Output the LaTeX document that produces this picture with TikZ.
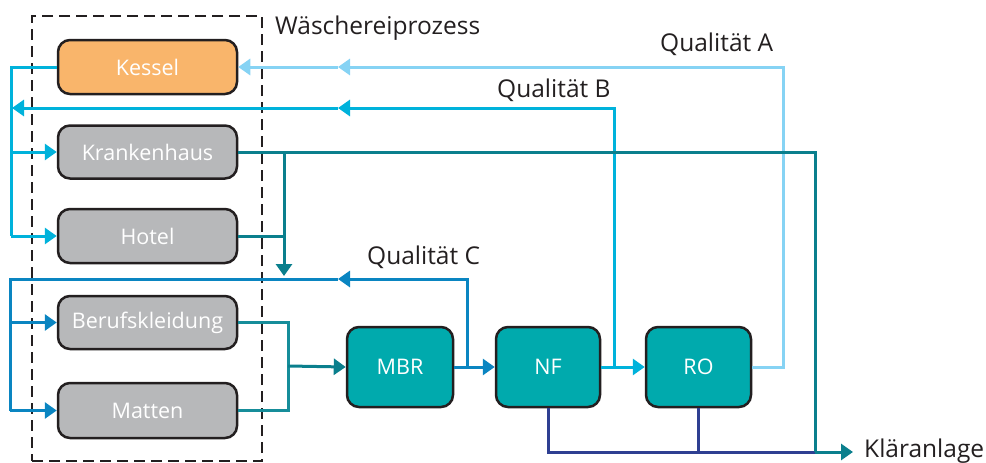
\documentclass[tikz,border=0pt]{standalone}
\usepackage{fontspec}
\setmainfont{Open Sans}
\usetikzlibrary{arrows.meta}
\definecolor{kesselc}{HTML}{F9B56B}
\definecolor{grayc}{HTML}{B7B8BA}
\definecolor{tealbox}{HTML}{00AAAD}
\definecolor{qaC}{HTML}{86D3F4}
\definecolor{qbC}{HTML}{00B2DB}
\definecolor{qcC}{HTML}{0A85C1}
\definecolor{dtC}{HTML}{0A7F8D}
\definecolor{mtC}{HTML}{168D9A}
\definecolor{nvC}{HTML}{2E3F92}
\definecolor{inkC}{HTML}{231F20}
\tikzset{
  box/.style={draw=inkC, line width=2.5pt, rounded corners=12pt, text=white,
    font=\fontsize{21.5}{25}\selectfont, inner sep=0pt},
  lbl/.style={text=inkC, font=\fontsize{24.5}{28}\selectfont, anchor=west, inner sep=0pt},
  flow/.style={line width=3pt},
  tip/.style={-{Triangle[length=12pt,width=16pt]}},
  qa/.style={flow, draw=qaC, color=qaC},
  qb/.style={flow, draw=qbC, color=qbC},
  qc/.style={flow, draw=qcC, color=qcC},
  dt/.style={flow, draw=dtC, color=dtC},
  mt/.style={flow, draw=mtC, color=mtC},
  nv/.style={flow, draw=nvC, color=nvC},
}
\begin{document}
\begin{tikzpicture}[x=1pt,y=-1pt]
\useasboundingbox (0,0) rectangle (986,463);

% dashed process box
\node[draw=inkC, line width=2.7pt, dash pattern=on 11pt off 6pt,
  minimum width=230pt, minimum height=445pt, inner sep=0pt] (proc) at (147,238.5) {};

% nodes
\node[box, fill=kesselc, minimum width=179pt, minimum height=54pt] (kessel) at (147.5,67) {Kessel};
\node[box, fill=grayc, minimum width=179pt, minimum height=53pt] (kh) at (147.5,152) {Krankenhaus};
\node[box, fill=grayc, minimum width=179pt, minimum height=54pt] (hotel) at (147.5,236) {Hotel};
\node[box, fill=grayc, minimum width=179pt, minimum height=53pt] (beruf) at (147.5,322.5) {Berufskleidung};
\node[box, fill=grayc, minimum width=179pt, minimum height=55pt] (matten) at (147.5,410.5) {Matten};
\node[box, fill=tealbox, minimum width=106pt, minimum height=80pt] (mbr) at (400,367) {MBR};
\node[box, fill=tealbox, minimum width=104pt, minimum height=80pt] (nf) at (548,367) {NF};
\node[box, fill=tealbox, minimum width=105pt, minimum height=80pt] (ro) at (698.5,367) {RO};

% labels
\node[lbl] (lwp) at (275,28) {Wäschereiprozess};
\node[lbl] (lqa) at (660,44) {Qualität A};
\node[lbl] (lqb) at (497,90) {Qualität B};
\node[lbl] (lqc) at (367,257) {Qualität C};
\node[lbl] (klaer) at (864,451) {Kläranlage};

% coordinates
\coordinate (qaR) at (783,67);
\coordinate (qaM) at (338,67);
\coordinate (qbB) at (614,367);
\coordinate (qbT) at (614,108);
\coordinate (qbM) at (338,108);
\coordinate (qbL) at (12,108);
\coordinate (hL) at (11,236);
\coordinate (kr) at (815,452);
\coordinate (kArr) at (853,452);
\coordinate (dA) at (284,152);
\coordinate (dB) at (284,276);
\coordinate (qcB) at (467,367);
\coordinate (qcT) at (467,279);
\coordinate (qcM) at (338,279);
\coordinate (qcL) at (10,279);
\coordinate (mL) at (10,410.5);
\coordinate (bm) at (288,366);

% Qualitaet A
\draw[qa, tip] (ro.east) -| (qaR) -- (qaM);
\draw[qa, tip] (qaM) -- (kessel.east);

% Kessel outlet to Krankenhaus / Hotel
\draw[qb] (kessel.west) -| (hL);
\draw[qb, tip] (hL) -- (hotel.west);
\draw[qb, tip] (kh.west -| hL) -- (kh.west);

% Qualitaet B
\draw[qb, tip] (qbB) -- (qbT) -- (qbM);
\draw[qb, tip] (qbM) -- (qbL);
\draw[qb, tip] (nf.east) -- (ro.west);

% Krankenhaus / Hotel outlet
\draw[nv] (nf.south) |- (kr);
\draw[nv] (ro.south) -- (ro.south |- kr);
\draw[dt] (kh.east) -| (kr);
\draw[dt, tip] (kr) -- (kArr);
\draw[dt] (hotel.east) -- (hotel.east -| dA);
\draw[dt, tip] (dA) -- (dB);

% Qualitaet C
\draw[qc, tip] (qcB) -- (qcT) -- (qcM);
\draw[qc] (qcM) -- (qcL) -- (mL);
\draw[qc, tip] (mL) -- (matten.west);
\draw[qc, tip] (beruf.west -| mL) -- (beruf.west);
\draw[qc, tip] (mbr.east) -- (nf.west);

% Berufskleidung / Matten outlet
\draw[mt] (beruf.east) -| (bm);
\draw[mt] (matten.east) -| (bm);
\draw[dt, tip] (bm) -- (mbr.west);
\end{tikzpicture}
\end{document}
